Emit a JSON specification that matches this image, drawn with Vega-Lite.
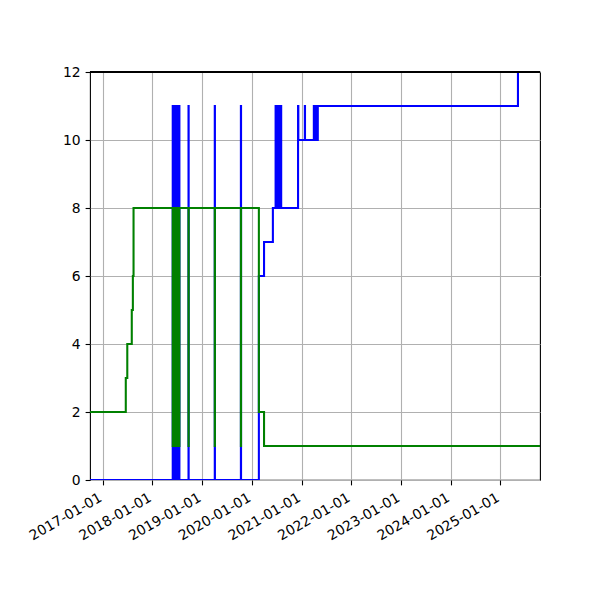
{
  "$schema": "https://vega.github.io/schema/vega-lite/v6.json",
  "width": 450,
  "height": 408,
  "autosize": "none",
  "padding": {"left": 90, "top": 72, "right": 60, "bottom": 120},
  "background": "white",
  "config": {
    "view": {"stroke": "black", "strokeWidth": 1.1},
    "axis": {
      "domain": false,
      "grid": true,
      "gridColor": "#b0b0b0",
      "gridWidth": 1.1,
      "tickColor": "black",
      "tickWidth": 1.1,
      "tickSize": 4.9,
      "labelPadding": 4.9,
      "labelFont": "DejaVu Sans",
      "labelFontSize": 13.9,
      "labelColor": "black",
      "title": null
    }
  },
  "data": {"values": [
    {"series": "blue", "date": "2016-09-29", "value": 0},
    {"series": "blue", "date": "2018-05-30", "value": 11},
    {"series": "blue", "date": "2018-05-31", "value": 0},
    {"series": "blue", "date": "2018-06-03", "value": 11},
    {"series": "blue", "date": "2018-06-04", "value": 0},
    {"series": "blue", "date": "2018-06-07", "value": 11},
    {"series": "blue", "date": "2018-06-08", "value": 0},
    {"series": "blue", "date": "2018-06-11", "value": 11},
    {"series": "blue", "date": "2018-06-12", "value": 0},
    {"series": "blue", "date": "2018-06-15", "value": 11},
    {"series": "blue", "date": "2018-06-16", "value": 0},
    {"series": "blue", "date": "2018-06-19", "value": 11},
    {"series": "blue", "date": "2018-06-20", "value": 0},
    {"series": "blue", "date": "2018-06-23", "value": 11},
    {"series": "blue", "date": "2018-06-24", "value": 0},
    {"series": "blue", "date": "2018-06-27", "value": 11},
    {"series": "blue", "date": "2018-06-28", "value": 0},
    {"series": "blue", "date": "2018-07-01", "value": 11},
    {"series": "blue", "date": "2018-07-02", "value": 0},
    {"series": "blue", "date": "2018-07-05", "value": 11},
    {"series": "blue", "date": "2018-07-06", "value": 0},
    {"series": "blue", "date": "2018-07-09", "value": 11},
    {"series": "blue", "date": "2018-07-10", "value": 0},
    {"series": "blue", "date": "2018-07-13", "value": 11},
    {"series": "blue", "date": "2018-07-14", "value": 0},
    {"series": "blue", "date": "2018-07-17", "value": 11},
    {"series": "blue", "date": "2018-07-18", "value": 0},
    {"series": "blue", "date": "2018-09-23", "value": 11},
    {"series": "blue", "date": "2018-09-24", "value": 0},
    {"series": "blue", "date": "2019-04-04", "value": 11},
    {"series": "blue", "date": "2019-04-05", "value": 0},
    {"series": "blue", "date": "2019-10-13", "value": 11},
    {"series": "blue", "date": "2019-10-14", "value": 0},
    {"series": "blue", "date": "2020-02-22", "value": 6},
    {"series": "blue", "date": "2020-03-31", "value": 7},
    {"series": "blue", "date": "2020-06-04", "value": 8},
    {"series": "blue", "date": "2020-06-24", "value": 11},
    {"series": "blue", "date": "2020-06-25", "value": 8},
    {"series": "blue", "date": "2020-06-28", "value": 11},
    {"series": "blue", "date": "2020-06-29", "value": 8},
    {"series": "blue", "date": "2020-07-02", "value": 11},
    {"series": "blue", "date": "2020-07-03", "value": 8},
    {"series": "blue", "date": "2020-07-06", "value": 11},
    {"series": "blue", "date": "2020-07-07", "value": 8},
    {"series": "blue", "date": "2020-07-10", "value": 11},
    {"series": "blue", "date": "2020-07-11", "value": 8},
    {"series": "blue", "date": "2020-07-14", "value": 11},
    {"series": "blue", "date": "2020-07-15", "value": 8},
    {"series": "blue", "date": "2020-07-18", "value": 11},
    {"series": "blue", "date": "2020-07-19", "value": 8},
    {"series": "blue", "date": "2020-07-22", "value": 11},
    {"series": "blue", "date": "2020-07-23", "value": 8},
    {"series": "blue", "date": "2020-07-26", "value": 11},
    {"series": "blue", "date": "2020-07-27", "value": 8},
    {"series": "blue", "date": "2020-07-30", "value": 11},
    {"series": "blue", "date": "2020-07-31", "value": 8},
    {"series": "blue", "date": "2020-08-03", "value": 11},
    {"series": "blue", "date": "2020-08-04", "value": 8},
    {"series": "blue", "date": "2020-12-06", "value": 11},
    {"series": "blue", "date": "2020-12-08", "value": 10},
    {"series": "blue", "date": "2021-01-25", "value": 11},
    {"series": "blue", "date": "2021-01-26", "value": 10},
    {"series": "blue", "date": "2021-04-01", "value": 11},
    {"series": "blue", "date": "2021-04-02", "value": 10},
    {"series": "blue", "date": "2021-04-06", "value": 11},
    {"series": "blue", "date": "2021-04-07", "value": 10},
    {"series": "blue", "date": "2021-04-11", "value": 11},
    {"series": "blue", "date": "2021-04-12", "value": 10},
    {"series": "blue", "date": "2021-04-16", "value": 11},
    {"series": "blue", "date": "2021-04-17", "value": 10},
    {"series": "blue", "date": "2021-04-21", "value": 11},
    {"series": "blue", "date": "2021-04-22", "value": 10},
    {"series": "blue", "date": "2021-04-26", "value": 11},
    {"series": "blue", "date": "2021-04-27", "value": 10},
    {"series": "blue", "date": "2021-04-30", "value": 11},
    {"series": "blue", "date": "2025-05-10", "value": 12},
    {"series": "blue", "date": "2025-10-19", "value": 12},
    {"series": "green", "date": "2016-09-29", "value": 2},
    {"series": "green", "date": "2017-06-19", "value": 3},
    {"series": "green", "date": "2017-06-30", "value": 4},
    {"series": "green", "date": "2017-08-02", "value": 5},
    {"series": "green", "date": "2017-08-10", "value": 6},
    {"series": "green", "date": "2017-08-15", "value": 8},
    {"series": "green", "date": "2018-05-30", "value": 1},
    {"series": "green", "date": "2018-05-31", "value": 8},
    {"series": "green", "date": "2018-06-03", "value": 1},
    {"series": "green", "date": "2018-06-04", "value": 8},
    {"series": "green", "date": "2018-06-07", "value": 1},
    {"series": "green", "date": "2018-06-08", "value": 8},
    {"series": "green", "date": "2018-06-11", "value": 1},
    {"series": "green", "date": "2018-06-12", "value": 8},
    {"series": "green", "date": "2018-06-15", "value": 1},
    {"series": "green", "date": "2018-06-16", "value": 8},
    {"series": "green", "date": "2018-06-19", "value": 1},
    {"series": "green", "date": "2018-06-20", "value": 8},
    {"series": "green", "date": "2018-06-23", "value": 1},
    {"series": "green", "date": "2018-06-24", "value": 8},
    {"series": "green", "date": "2018-06-27", "value": 1},
    {"series": "green", "date": "2018-06-28", "value": 8},
    {"series": "green", "date": "2018-07-01", "value": 1},
    {"series": "green", "date": "2018-07-02", "value": 8},
    {"series": "green", "date": "2018-07-05", "value": 1},
    {"series": "green", "date": "2018-07-06", "value": 8},
    {"series": "green", "date": "2018-07-09", "value": 1},
    {"series": "green", "date": "2018-07-10", "value": 8},
    {"series": "green", "date": "2018-07-13", "value": 1},
    {"series": "green", "date": "2018-07-14", "value": 8},
    {"series": "green", "date": "2018-07-17", "value": 1},
    {"series": "green", "date": "2018-07-18", "value": 8},
    {"series": "green", "date": "2018-09-23", "value": 1},
    {"series": "green", "date": "2018-09-24", "value": 8},
    {"series": "green", "date": "2019-04-04", "value": 1},
    {"series": "green", "date": "2019-04-05", "value": 8},
    {"series": "green", "date": "2019-10-13", "value": 1},
    {"series": "green", "date": "2019-10-14", "value": 8},
    {"series": "green", "date": "2020-02-22", "value": 2},
    {"series": "green", "date": "2020-03-31", "value": 1},
    {"series": "green", "date": "2025-10-19", "value": 1}
  ]},
  "encoding": {
    "x": {
      "field": "date",
      "type": "temporal",
      "scale": {"type": "utc", "domain": [{"year": 2016, "month": 9, "date": 29, "utc": true}, {"year": 2025, "month": 10, "date": 19, "utc": true}], "nice": false},
      "axis": {
        "values": [
          {"year": 2017, "month": 1, "date": 1, "utc": true},
          {"year": 2018, "month": 1, "date": 1, "utc": true},
          {"year": 2019, "month": 1, "date": 1, "utc": true},
          {"year": 2020, "month": 1, "date": 1, "utc": true},
          {"year": 2021, "month": 1, "date": 1, "utc": true},
          {"year": 2022, "month": 1, "date": 1, "utc": true},
          {"year": 2023, "month": 1, "date": 1, "utc": true},
          {"year": 2024, "month": 1, "date": 1, "utc": true},
          {"year": 2025, "month": 1, "date": 1, "utc": true}
        ],
        "labelExpr": "utcFormat(datum.value, '%Y-%m-%d')",
        "labelAngle": -30,
        "labelAlign": "right",
        "labelBaseline": "top",
        "labelOffset": -6,
        "labelPadding": 5.5,
        "labelOverlap": false,
        "labelFlush": false
      }
    },
    "y": {
      "field": "value",
      "type": "quantitative",
      "scale": {"domain": [0, 12], "nice": false, "zero": false},
      "axis": {"values": [0, 2, 4, 6, 8, 10, 12]}
    }
  },
  "layer": [
    {
      "transform": [{"filter": "datum.series === 'blue'"}],
      "mark": {"type": "line", "interpolate": "step-after", "color": "#0000ff", "strokeWidth": 2.08, "clip": true}
    },
    {
      "transform": [{"filter": "datum.series === 'green'"}],
      "mark": {"type": "line", "interpolate": "step-after", "color": "#008000", "strokeWidth": 2.08, "clip": true}
    },
    {
      "mark": {"type": "rule", "color": "black", "strokeWidth": 1.1},
      "encoding": {"y": {"datum": 12}, "x": null}
    }
  ]
}
